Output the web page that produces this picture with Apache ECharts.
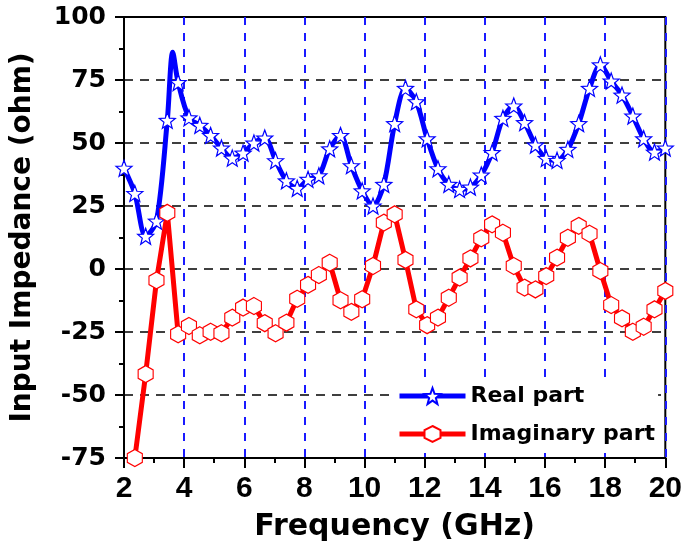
<!DOCTYPE html>
<html>
<head>
<meta charset="utf-8">
<script src="https://cdn.jsdelivr.net/npm/echarts@6/dist/echarts.min.js"></script>
<style>
  html, body { margin: 0; padding: 0; background: #fff; }
  #chart { width: 685px; height: 550px; }
</style>
</head>
<body>
<div id="chart"></div>
<script>
// frequency points (GHz) where markers sit
var freq = [2.00, 2.36, 2.72, 3.08, 3.44, 3.80, 4.16, 4.52, 4.88, 5.24, 5.60, 5.96, 6.32, 6.68,
    7.04, 7.40, 7.76, 8.12, 8.48, 8.84, 9.20, 9.56, 9.92, 10.28, 10.64, 11.00, 11.36, 11.72,
    12.08, 12.44, 12.80, 13.16, 13.52, 13.88, 14.24, 14.60, 14.96, 15.32, 15.68, 16.04, 16.40,
    16.76, 17.12, 17.48, 17.84, 18.20, 18.56, 18.92, 19.28, 19.64, 20.00];
var realPart = [40, 30, 13, 19, 59, 74, 60, 57, 53, 48, 44, 46, 50, 52,
    43, 35, 32, 35.6, 37, 47.7, 53, 41, 31, 25, 33.6, 57.7, 71.7, 66.4,
    51.7, 39.8, 33.6, 31.6, 32.5, 37.3, 46.2, 59.8, 64.7, 58.1, 49.2, 43.9, 43.1,
    47.5, 57.7, 71.7, 81, 74.6, 69, 60.7, 51.7, 46.4, 48];
var imagPart = [-105, -75, -41.7, -4.5, 22.3, -25.9, -22.6, -26.3, -24.9, -25.5, -19.3, -15.3, -14.7, -21.5,
    -25.5, -21.3, -11.8, -6.3, -2.4, 2.5, -12.4, -17, -12, 1.2, 18.4, 21.7, 3.6, -16,
    -22.3, -19.3, -11.4, -3.4, 4.2, 12.2, 17.7, 14.4, 1.2, -7.4, -8.1, -2.8, 4.5,
    12.4, 17.1, 14, -0.8, -14.3, -19.6, -24.9, -22.9, -16, -8.7];
// sharp peak of the real part between two markers (no marker drawn there)
var realPeak = [3.62, 86];

var xTicks = [2, 4, 6, 8, 10, 12, 14, 16, 18, 20];
var yTicks = [-75, -50, -25, 0, 25, 50, 75, 100];

function starPath() {
    var pts = [];
    for (var i = 0; i < 10; i++) {
        var r = i % 2 === 0 ? 10 : 4.2;
        var a = -Math.PI / 2 + i * Math.PI / 5;
        pts.push((r * Math.cos(a)).toFixed(2) + ' ' + (r * Math.sin(a)).toFixed(2));
    }
    return 'path://M' + pts.join(' L') + ' Z';
}
var hexPath = 'path://M0 -10 L8.66 -5 L8.66 5 L0 10 L-8.66 5 L-8.66 -5 Z';

var realData = [];
freq.forEach(function (f, i) {
    realData.push([f, realPart[i]]);
    if (f === 3.44) realData.push({ value: realPeak, symbol: 'none' });
});
var imagData = freq.map(function (f, i) { return [f, imagPart[i]]; });

var arial = 'Liberation Sans, Arial, sans-serif';
var wide = 'DejaVu Sans, sans-serif';
var chart = echarts.init(document.getElementById('chart'));
chart.setOption({
    animation: false,
    grid: {
        left: 124, right: 19, top: 17, bottom: 92,
        show: true, borderColor: '#000', borderWidth: 2
    },
    legend: {
        left: 390, top: 377,
        orient: 'vertical',
        itemWidth: 66, itemHeight: 20, itemGap: 16,
        backgroundColor: '#fff',
        padding: [8, 3, 8, 7],
        lineStyle: { width: 5 },
        textStyle: { fontFamily: wide, fontWeight: 'bold', fontSize: 22, color: '#000' },
        data: ['Real part', 'Imaginary part']
    },
    xAxis: {
        type: 'value', min: 2, max: 20, interval: 2,
        name: 'Frequency (GHz)', nameLocation: 'middle', nameGap: 54,
        nameTextStyle: { fontFamily: wide, fontWeight: 'bold', fontSize: 30, color: '#000' },
        axisLine: { onZero: false, lineStyle: { color: '#000', width: 2 } },
        axisTick: { show: true, length: 10, lineStyle: { color: '#000', width: 2 } },
        minorTick: { show: true, splitNumber: 2, length: 5, lineStyle: { color: '#000', width: 2 } },
        axisLabel: {
            fontFamily: arial, fontWeight: 'bold', fontSize: 30, color: '#000', margin: 16,
            formatter: function (v) { return xTicks.indexOf(v) >= 0 ? String(v) : ''; }
        },
        splitLine: { show: true, lineStyle: { color: '#1a1aff', width: 2, type: [8, 8] } }
    },
    yAxis: {
        type: 'value', min: -75, max: 100, interval: 25,
        name: 'Input Impedance (ohm)', nameLocation: 'middle', nameGap: 87,
        nameTextStyle: { fontFamily: wide, fontWeight: 'bold', fontSize: 28, color: '#000' },
        axisLine: { show: true, onZero: false, lineStyle: { color: '#000', width: 2 } },
        axisTick: { show: true, length: 9, lineStyle: { color: '#000', width: 2 } },
        minorTick: { show: true, splitNumber: 2, length: 5, lineStyle: { color: '#000', width: 2 } },
        axisLabel: {
            fontFamily: wide, fontWeight: 'bold', fontSize: 25, color: '#000', margin: 18,
            formatter: function (v) { return yTicks.indexOf(v) >= 0 ? String(v) : ''; }
        },
        splitLine: { show: true, lineStyle: { color: '#000', width: 1.5, type: [9, 7] } }
    },
    series: [
        {
            name: 'Real part', type: 'line', data: realData,
            smooth: 0.3, clip: true,
            symbol: starPath(), symbolSize: 16,
            lineStyle: { color: '#0000ff', width: 5 },
            itemStyle: { color: '#fff', borderColor: '#0000ff', borderWidth: 1.2 }
        },
        {
            name: 'Imaginary part', type: 'line', data: imagData,
            clip: true,
            symbol: hexPath, symbolSize: [15, 17],
            lineStyle: { color: '#ff0000', width: 5 },
            itemStyle: { color: '#fff', borderColor: '#ff0000', borderWidth: 1.2 }
        }
    ]
});
</script>
</body>
</html>
